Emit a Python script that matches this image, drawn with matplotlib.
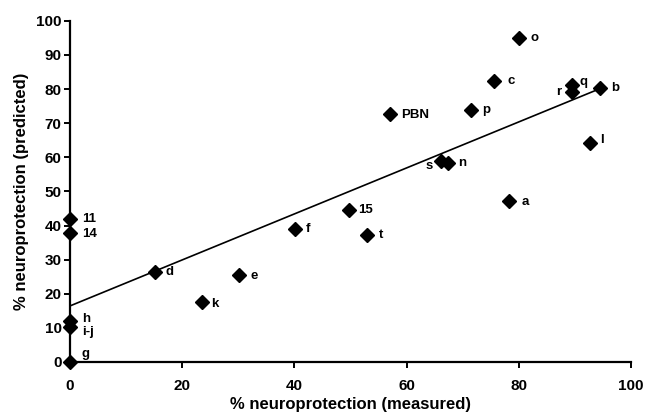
import numpy as np
import matplotlib
matplotlib.use("Agg")
import matplotlib.pyplot as plt

plt.rcParams["font.family"] = ["Liberation Sans", "DejaVu Sans"]
plt.rcParams["font.weight"] = "bold"

# compounds: measured vs predicted neuroprotection (%)
labels = ["o", "c", "q", "r", "b", "PBN", "p", "l", "s", "n", "a", "15", "t",
          "f", "d", "e", "k", "11", "14", "h", "i-j", "g"]
measured = [80.1, 75.5, 89.4, 89.4, 94.5, 57.1, 71.5, 92.7, 66.1, 67.4, 78.2,
            49.8, 52.9, 40.1, 15.1, 30.1, 23.6, 0, 0, 0, 0, 0]
predicted = [95.0, 82.4, 81.2, 79.0, 80.2, 72.8, 73.8, 64.2, 58.8, 58.4, 47.3,
             44.5, 37.3, 39.0, 26.4, 25.5, 17.6, 42.0, 37.8, 12.0, 10.2, 0.0]

# label offsets in pixels (dx, dy, ha)
offsets = {
    "o": (11, 0, "left"), "c": (14, 0, "left"), "q": (8, 3, "left"),
    "r": (-10, 0, "right"), "b": (11, 0, "left"), "PBN": (11, -1, "left"),
    "p": (11, 0, "left"), "l": (10, 3, "left"), "s": (-8, -5, "right"),
    "n": (10, 0, "left"), "a": (13, -1, "left"), "15": (9, 0, "left"),
    "t": (12, 0, "left"), "f": (11, 0, "left"), "d": (11, 0, "left"),
    "e": (12, -1, "left"), "k": (9, -2, "left"), "11": (12, 0, "left"),
    "14": (12, -1, "left"), "h": (12, 2, "left"), "i-j": (12, -5, "left"),
    "g": (12, 8, "left"),
}

fig = plt.figure(figsize=(6.45, 4.17), dpi=100)
ax = fig.add_axes([0.1085, 0.132, 0.8700, 0.818])

x = np.array(measured)
y = np.array(predicted)
slope, intercept = np.polyfit(x, y, 1)
xl = np.array([0, x.max()])
ax.plot(xl, intercept + slope * xl, color="black", lw=1.2, zorder=2)

ax.plot(x, y, "D", color="black", ms=7.2, zorder=3, clip_on=False)

for lab, xi, yi in zip(labels, measured, predicted):
    dx, dy, ha = offsets[lab]
    ax.annotate(lab, (xi, yi), xytext=(dx, dy), textcoords="offset pixels",
                ha=ha, va="center", fontsize=9.5, fontweight="bold")

ax.set_xlim(0, 100)
ax.set_ylim(0, 100)
ax.set_xticks(range(0, 101, 20))
ax.set_yticks(range(0, 101, 10))
for s in ["top", "right"]:
    ax.spines[s].set_visible(False)
for s in ["left", "bottom"]:
    ax.spines[s].set_linewidth(1.6)
ax.tick_params(axis="both", direction="out", width=1.4, length=4,
               labelsize=11)
ax.tick_params(axis="x", pad=8)
ax.tick_params(axis="y", pad=2)

ax.set_xlabel("% neuroprotection (measured)", fontsize=12,
              fontweight="bold", labelpad=3)
ax.set_ylabel("% neuroprotection (predicted)", fontsize=12,
              fontweight="bold", labelpad=5)

fig.savefig("out.png", dpi=100)
